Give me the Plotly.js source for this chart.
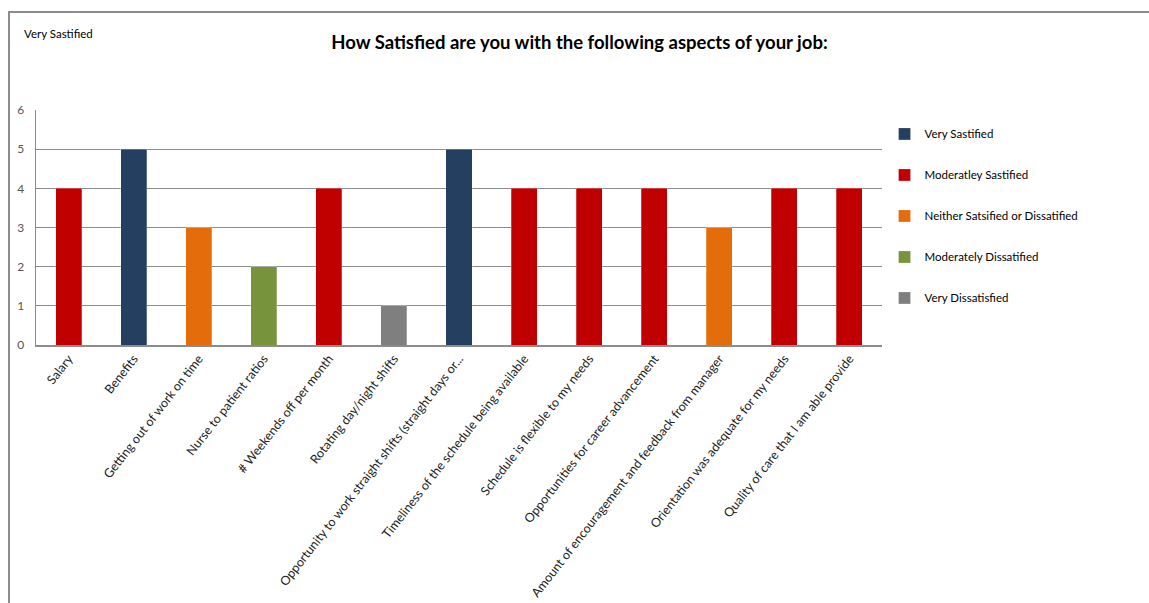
<!DOCTYPE html>
<html>
<head>
<meta charset="utf-8">
<script src="https://cdn.plot.ly/plotly-3.0.1.min.js"></script>
<style>
  html, body { margin: 0; padding: 0; background: #ffffff; overflow: hidden; }
  #frame { position: absolute; left: 8px; top: 11px; width: 1200px; height: 700px;
           border-left: 2px solid #8c8c8c; border-top: 2px solid #8c8c8c; }
  #chart { position: absolute; left: 10px; top: 13px; width: 1139px; height: 590px; }
</style>
</head>
<body>
<div id="frame"></div>
<div id="chart"></div>
<script>
const categories = [
  "Salary",
  "Benefits",
  "Getting out of work on time",
  "Nurse to patient ratios",
  "# Weekends off per month",
  "Rotating day/night shifts",
  "Opportunity to work straight shifts (straight days or...",
  "Timeliness of the schedule being available",
  "Schedule is flexible to my needs",
  "Opportunities for career advancement",
  "Amount of encouragement and feedback from manager",
  "Orientation was adequate for my needs",
  "Quality of care that I am able provide"
];
const values = [4, 5, 3, 2, 4, 1, 5, 4, 4, 4, 3, 4, 4];
const responseLevel = [
  "Moderatley Sastified", "Very Sastified", "Neither Satsified or Dissatified",
  "Moderately Dissatified", "Moderatley Sastified", "Very Dissatisfied",
  "Very Sastified", "Moderatley Sastified", "Moderatley Sastified",
  "Moderatley Sastified", "Neither Satsified or Dissatified",
  "Moderatley Sastified", "Moderatley Sastified"
];
const levels = [
  "Very Sastified",
  "Moderatley Sastified",
  "Neither Satsified or Dissatified",
  "Moderately Dissatified",
  "Very Dissatisfied"
];
const levelColors = ["#243F60", "#C00000", "#E46C0A", "#77933C", "#7F7F7F"];
const yTicks = [0, 1, 2, 3, 4, 5, 6];

const FONT = "Lato, 'Open Sans', sans-serif";

const traces = levels.map((lvl, i) => {
  const xs = [], ys = [];
  categories.forEach((c, j) => {
    if (responseLevel[j] === lvl) { xs.push(c); ys.push(values[j]); }
  });
  return {
    type: "bar",
    name: lvl,
    legendgroup: "g" + i,
    x: xs,
    y: ys,
    marker: { color: levelColors[i], line: { color: "rgba(255,255,255,0.5)", width: 0.5 } },
    hoverinfo: "x+y"
  };
});

const layout = {
  width: 1139,
  height: 590,
  margin: { l: 26, r: 267, t: 97, b: 258 },
  paper_bgcolor: "#ffffff",
  plot_bgcolor: "#ffffff",
  barmode: "stack",
  bargap: 0.6,
  font: { family: FONT, size: 12, color: "#000000" },
  title: {
    text: "<b>How Satisfied are you with the following aspects of your job:</b>",
    font: { family: FONT, size: 18.5, color: "#000000" },
    x: 0.5, xref: "container", xanchor: "center",
    y: 0.95, yref: "container", yanchor: "middle"
  },
  xaxis: {
    type: "category",
    categoryorder: "array",
    categoryarray: categories,
    tickangle: -52,
    tickfont: { family: FONT, size: 12.5, color: "#222222" },
    showline: true, linecolor: "#8c8c8c", linewidth: 1.5,
    ticks: "", showgrid: false, zeroline: false,
    automargin: false
  },
  yaxis: {
    range: [0, 6],
    tickvals: yTicks,
    ticktext: yTicks.map(String),
    tickfont: { family: FONT, size: 12, color: "#555555" },
    ticklabelstandoff: 8,
    showline: true, linecolor: "#8c8c8c", linewidth: 1.5,
    showgrid: true, gridcolor: "#8c8c8c", gridwidth: 1,
    zeroline: false, ticks: "", ticklen: 0,
    automargin: false
  },
  legend: {
    x: 1.003, xanchor: "left",
    y: 0.96, yanchor: "top",
    traceorder: "grouped",
    tracegroupgap: 22,
    font: { family: FONT, size: 11.5, color: "#000000" },
    bgcolor: "rgba(0,0,0,0)"
  },
  annotations: [{
    text: "Very Sastified",
    xref: "paper", yref: "paper",
    x: (22 - 36) / 846, y: 1 + (110 - 33) / 235,
    xanchor: "left", yanchor: "middle",
    showarrow: false,
    font: { family: FONT, size: 11.5, color: "#000000" }
  }],
  showlegend: true
};

Plotly.newPlot("chart", traces, layout, { displayModeBar: false, staticPlot: true });
</script>
</body>
</html>
